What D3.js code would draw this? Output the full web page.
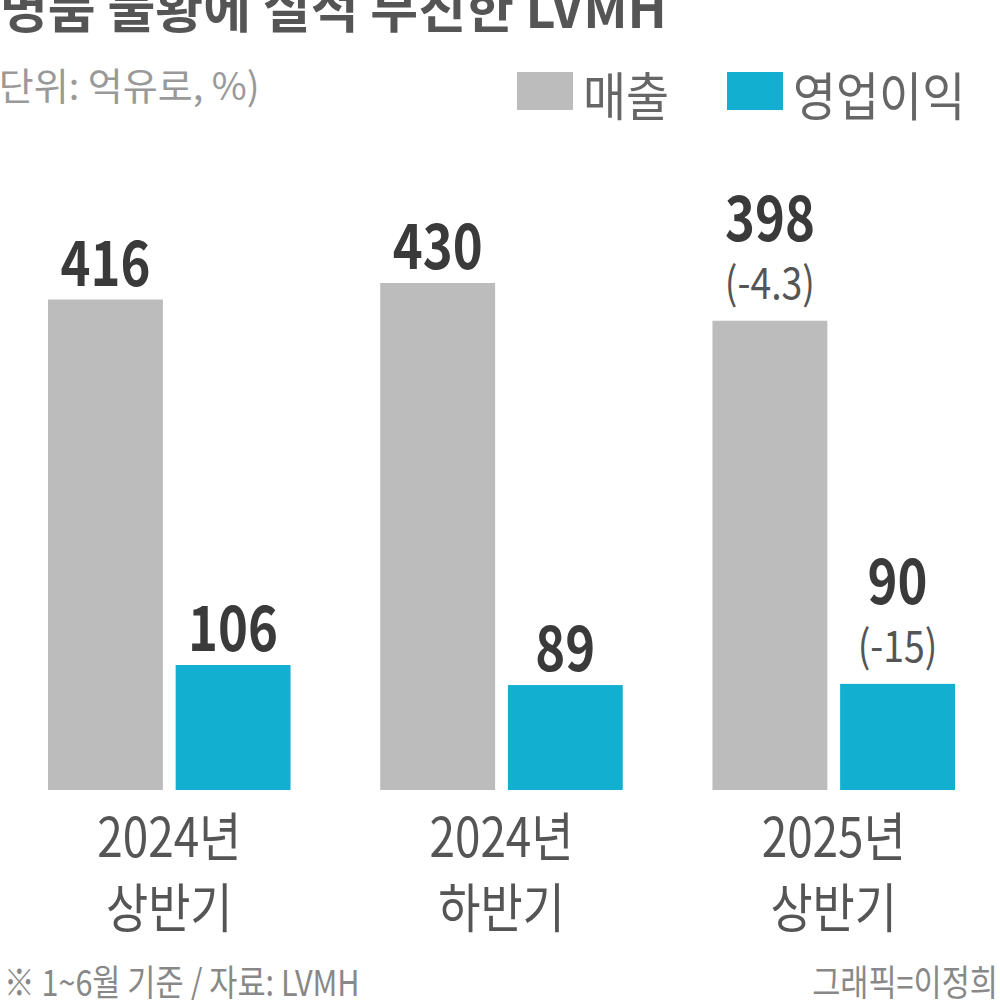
<!DOCTYPE html>
<html>
<head>
<meta charset="utf-8">
<script src="https://cdn.jsdelivr.net/npm/d3@7"></script>
<style>
  body { margin: 0; background: #fff; }
  svg text { font-family: "Noto Sans CJK KR", "Noto Sans", sans-serif; }
</style>
</head>
<body>
<div id="chart"></div>
<script>
const categories = [['2024년', '상반기'], ['2024년', '하반기'], ['2025년', '상반기']];
const sales = [416, 430, 398];
const profit = [106, 89, 90];
const salesChange = [null, null, '(-4.3)'];
const profitChange = [null, null, '(-15)'];
const seriesNames = ['매출', '영업이익'];

const width = 1000;
const height = 1000;
const colors = ['#bcbcbc', '#12afd0'];

const svg = d3.select('#chart')
              .append('svg')
              .attr('width', width)
              .attr('height', height);

// title, cut off by the top edge like the reference
svg.append('text')
   .attr('x', 0)
   .attr('y', 28)
   .style('font-size', 52)
   .style('font-weight', 700)
   .style('fill', '#555')
   .text('명품 불황에 실적 부진한 LVMH');

svg.append('text')
   .attr('x', -14)
   .attr('y', 100)
   .style('font-size', 38)
   .style('fill', '#999')
   .text('(단위: 억유로, %)');

// legend
const legendX = [517, 727];
const legend = svg.append('g').attr('id', 'legend')
  .selectAll('g')
  .data(seriesNames).enter()
  .append('g')
  .attr('transform', (d, i) => `translate(${legendX[i]}, 72)`);

legend.append('rect')
      .attr('width', 56)
      .attr('height', 38)
      .style('fill', (d, i) => colors[i]);

legend.append('text')
      .attr('transform', 'translate(66, 44) scale(0.9, 1)')
      .style('font-size', 52)
      .style('fill', '#666')
      .text(d => d);

// scales
const x0 = d3.scaleBand()
             .domain(d3.range(categories.length))
             .range([48, 955])
             .paddingInner(0.27);
const x1 = d3.scaleBand()
             .domain([0, 1])
             .range([0, x0.bandwidth()])
             .paddingInner(0.1);
const y = d3.scaleLinear()
            .domain([0, 430])
            .range([790, 283]);

const rows = categories.map((c, i) => ({
  cat: c, i,
  vals: [
    {v: sales[i], ch: salesChange[i], s: 0},
    {v: profit[i], ch: profitChange[i], s: 1}
  ]
}));

const groups = svg.selectAll('.group')
  .data(rows).enter()
  .append('g')
  .attr('class', 'group')
  .attr('transform', d => `translate(${x0(d.i)}, 0)`);

const bars = groups.selectAll('.bar')
  .data(d => d.vals).enter()
  .append('g')
  .attr('class', 'bar');

bars.append('rect')
    .attr('x', d => x1(d.s))
    .attr('y', d => y(d.v))
    .attr('width', x1.bandwidth())
    .attr('height', d => y(0) - y(d.v))
    .style('fill', d => colors[d.s]);

bars.append('text')
    .attr('transform', d => {
      const base = d.ch ? y(d.v) - 80 : y(d.v) - 14;
      return `translate(${x1(d.s) + x1.bandwidth() / 2}, ${base}) scale(0.82, 1)`;
    })
    .style('text-anchor', 'middle')
    .style('font-size', 62)
    .style('font-weight', 700)
    .style('fill', '#3a3a3a')
    .text(d => d.v);

bars.filter(d => d.ch)
    .append('text')
    .attr('transform', d => `translate(${x1(d.s) + x1.bandwidth() / 2}, ${y(d.v) - 22}) scale(0.85, 1)`)
    .style('text-anchor', 'middle')
    .style('font-size', 44)
    .style('fill', '#555')
    .text(d => d.ch);

// category labels
groups.append('text')
      .attr('transform', d => `translate(${x0.bandwidth() / 2}, 857) scale(0.85, 1)`)
      .style('text-anchor', 'middle')
      .style('font-size', 54)
      .style('fill', '#555')
      .text(d => d.cat[0]);

groups.append('text')
      .attr('transform', d => `translate(${x0.bandwidth() / 2}, 928) scale(0.85, 1)`)
      .style('text-anchor', 'middle')
      .style('font-size', 54)
      .style('fill', '#555')
      .text(d => d.cat[1]);

// footer
svg.append('text')
   .attr('transform', 'translate(4, 996) scale(0.85, 1)')
   .style('font-size', 36)
   .style('fill', '#888')
   .text('※ 1~6월 기준 / 자료: LVMH');

svg.append('text')
   .attr('transform', 'translate(998, 996) scale(0.85, 1)')
   .style('text-anchor', 'end')
   .style('font-size', 36)
   .style('fill', '#888')
   .text('그래픽=이정희');
</script>
</body>
</html>
